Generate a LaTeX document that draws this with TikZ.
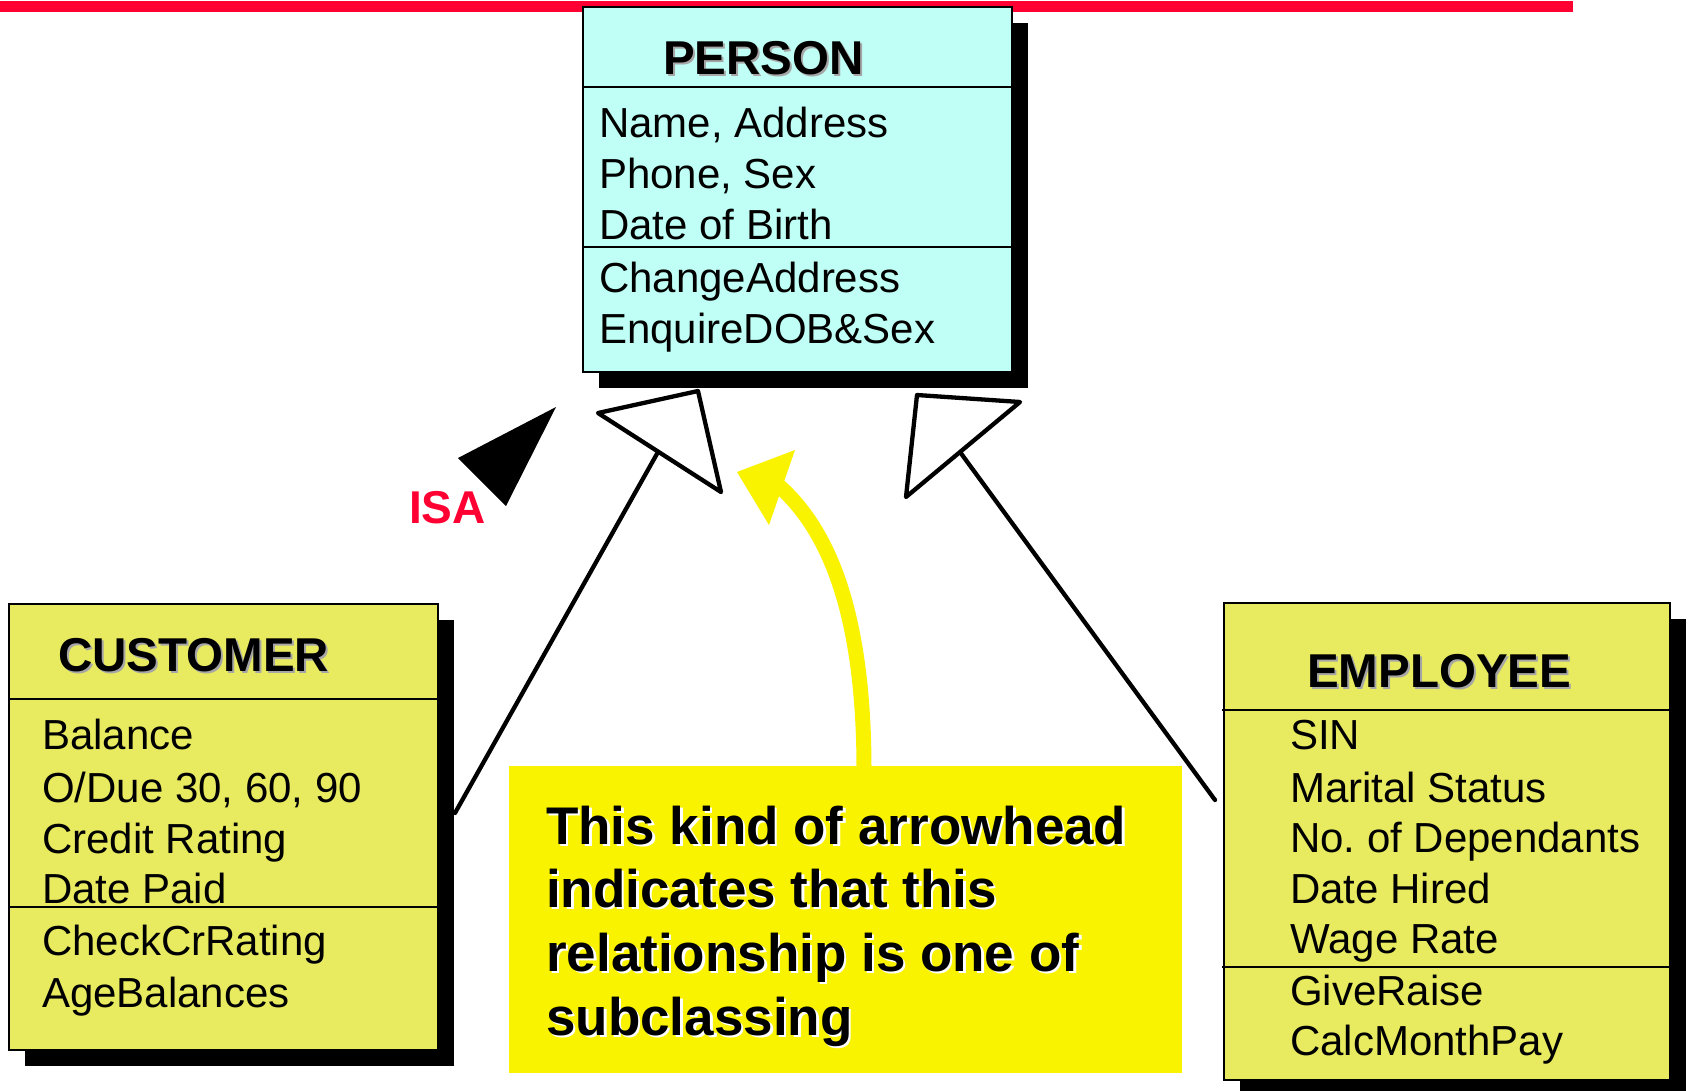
\documentclass[tikz,border=0pt]{standalone}
\usepackage{fontspec}
\setmainfont{Liberation Sans}
\usetikzlibrary{shadows}
\frenchspacing
\definecolor{personfill}{RGB}{191,255,246}
\definecolor{classfill}{RGB}{232,234,96}
\definecolor{notefill}{RGB}{250,243,0}
\definecolor{isared}{RGB}{255,0,51}
\begin{document}
\begin{tikzpicture}[x=1pt,y=-1pt,
  classbox/.style={draw=black, line width=1.8pt, anchor=north west,
    inner sep=0pt, outer sep=0pt,
    drop shadow={shadow xshift=16pt, shadow yshift=-16pt, fill=black, opacity=1}},
  divider/.style={draw=black, line width=1.8pt},
  attr/.style={anchor=base west, inner sep=0pt, font=\fontsize{42}{50}\selectfont},
  ttl/.style={anchor=base west, inner sep=0pt, font=\fontsize{47.5}{56}\selectfont\bfseries},
  ttlshadow/.style={ttl, text=black!35},
  notetxt/.style={anchor=base west, inner sep=0pt, font=\fontsize{53}{64}\selectfont\bfseries},
  conn/.style={draw=black, line width=4.3pt, line cap=round},
  hollowtri/.style={draw=black, line width=4.3pt, line join=round, fill=white},
  yarrow/.style={draw=notefill, line width=15pt}
]
\useasboundingbox (0,0) rectangle (1689,1090);
\fill[white] (0,0) rectangle (1689,1090);

% red rule across the top
\fill[isared] (0,1) rectangle (1573,12);

% ---------- PERSON ----------
\node[classbox, fill=personfill, minimum width=429pt, minimum height=365pt] (person) at (583,7) {};
\draw[divider] (person.west |- 0,87) -- (person.east |- 0,87);
\draw[divider] (person.west |- 0,247) -- (person.east |- 0,247);
\node[ttlshadow] at (665,76) {PERSON};
\node[ttl] (ptitle) at (663,74) {PERSON};
\node[attr] (p1) at (599,137) {Name, Address};
\node[attr] (p2) at (599,188) {Phone, Sex};
\node[attr] (p3) at (599,239) {Date of Birth};
\node[attr] (p4) at (599,292) {ChangeAddress};
\node[attr] (p5) at (599,343) {EnquireDOB\&Sex};

% ---------- CUSTOMER ----------
\node[classbox, fill=classfill, minimum width=429pt, minimum height=446pt] (customer) at (9,604) {};
\draw[divider] (customer.west |- 0,699) -- (customer.east |- 0,699);
\draw[divider] (customer.west |- 0,907) -- (customer.east |- 0,907);
\node[ttlshadow] at (60,673) {CUSTOMER};
\node[ttl] (ctitle) at (58,671) {CUSTOMER};
\node[attr] (c1) at (42,749) {Balance};
\node[attr] (c2) at (42,802) {O/Due 30, 60, 90};
\node[attr] (c3) at (42,853) {Credit Rating};
\node[attr] (c4) at (42,903) {Date Paid};
\node[attr] (c5) at (42,955) {CheckCrRating};
\node[attr] (c6) at (42,1007) {AgeBalances};

% ---------- EMPLOYEE ----------
\node[classbox, fill=classfill, minimum width=446pt, minimum height=477pt] (employee) at (1224,603) {};
\draw[divider] ([xshift=-2pt]employee.west |- 0,710) -- (employee.east |- 0,710);
\draw[divider] ([xshift=-2pt]employee.west |- 0,967) -- (employee.east |- 0,967);
\node[ttlshadow] at (1309,689) {EMPLOYEE};
\node[ttl] (etitle) at (1307,687) {EMPLOYEE};
\node[attr] (e1) at (1290,749) {SIN};
\node[attr] (e2) at (1290,802) {Marital Status};
\node[attr] (e3) at (1290,852) {No. of Dependants};
\node[attr] (e4) at (1290,903) {Date Hired};
\node[attr] (e5) at (1290,953) {Wage Rate};
\node[attr] (e6) at (1290,1005) {GiveRaise};
\node[attr] (e7) at (1290,1055) {CalcMonthPay};

% ---------- generalisation arrows ----------
\coordinate (custAttach) at (455,813);
\coordinate (empAttach) at (1215,800);
\coordinate (leftHead) at (658,452);
\coordinate (rightHead) at (960,452);
\draw[conn] (custAttach) -- (leftHead);
\draw[conn] (empAttach) -- (rightHead);
\draw[hollowtri] (598,413) -- (698,391) -- (721,492) -- cycle;
\draw[hollowtri] (917,395) -- (1020,402) -- (906,497) -- cycle;

% ISA marker
\fill[black] (458,458) -- (506,506) -- (556,407) -- cycle;
\node[anchor=base west, inner sep=0pt, text=isared,
  font=\fontsize{46}{54}\selectfont\bfseries] (isa) at (409,523) {ISA};

% ---------- explanatory note ----------
\node[anchor=north west, fill=notefill, inner sep=0pt, outer sep=0pt,
  minimum width=673pt, minimum height=307pt] (note) at (509,766) {};
\draw[yarrow] ([xshift=355pt, yshift=-4pt]note.north west)
  .. controls (864,640) and (840,540) .. (779,486);
\fill[notefill] (737,472) -- (795,450) -- (769,525) -- cycle;

\foreach \txt/\yy/\nm in {This kind of arrowhead/844/n1,
    indicates that this/907/n2,
    relationship is one of/971/n3,
    subclassing/1035/n4}{
  \node[notetxt, text=white] at (548.5,\yy+2.5) {\txt};
  \node[notetxt] (\nm) at (546,\yy) {\txt};
}
\end{tikzpicture}
\end{document}
